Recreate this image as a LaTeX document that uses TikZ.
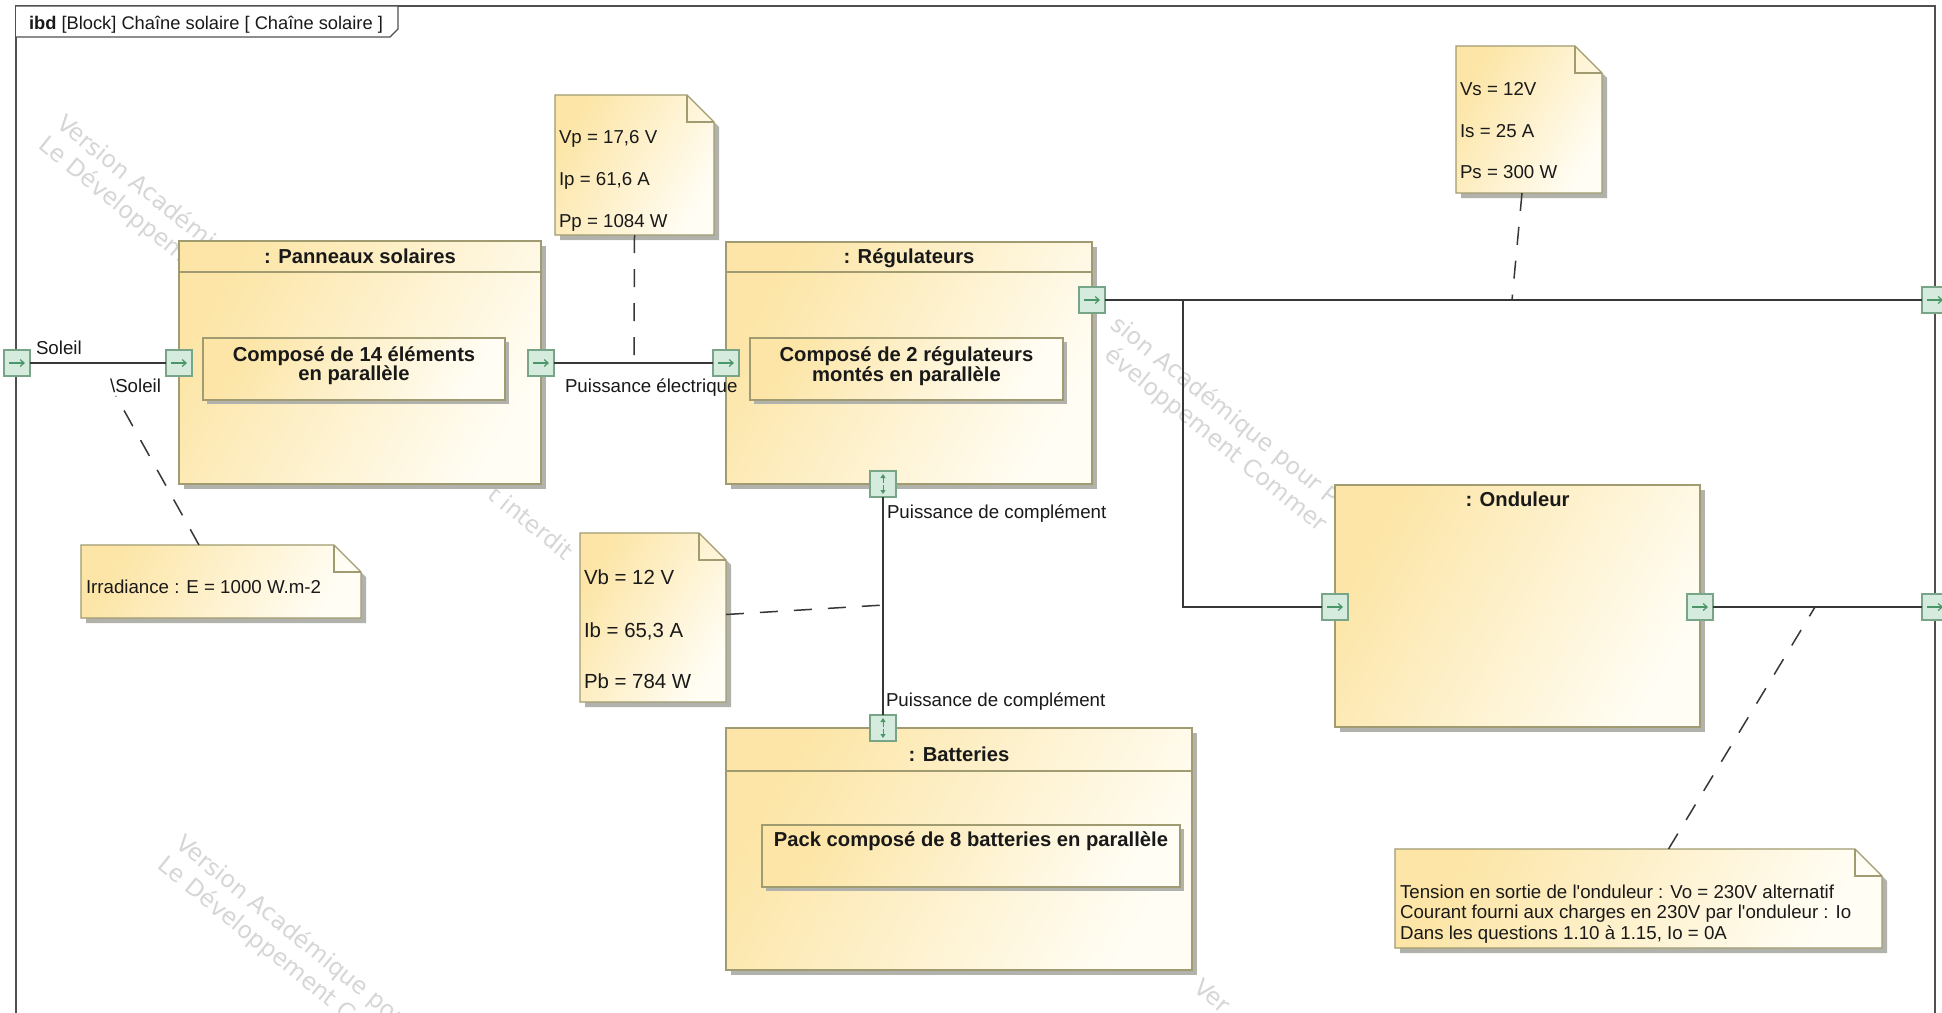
\documentclass[tikz,border=0pt]{standalone}
\usepackage{fontspec}
\setmainfont{Liberation Sans}
\newfontfamily\wmfont{DejaVu Sans}
\usetikzlibrary{arrows.meta,calc,shadows,fit}

\definecolor{blkA}{RGB}{252,229,166}
\definecolor{blkB}{RGB}{255,253,244}
\definecolor{bordc}{RGB}{160,155,112}
\definecolor{shadowc}{RGB}{178,178,172}
\definecolor{portfill}{RGB}{213,235,222}
\definecolor{portline}{RGB}{120,165,135}
\definecolor{portarr}{RGB}{75,150,105}
\definecolor{wirec}{RGB}{55,55,55}
\definecolor{framec}{RGB}{80,80,80}
\definecolor{txtc}{RGB}{25,25,25}
\definecolor{wmc}{RGB}{214,214,214}

\tikzset{
  every node/.style={inner sep=0pt, outer sep=0pt},
  txt/.style={font=\fontsize{18.7}{21}\selectfont, text=txtc},
  ttxt/.style={font=\fontsize{18.3}{21}\selectfont, text=txtc},
  bigtxt/.style={font=\fontsize{20.4}{24}\selectfont, text=txtc},
  btxt/.style={font=\fontsize{20.2}{24}\selectfont\bfseries, text=txtc},
  wmark/.style={font=\wmfont\fontsize{23.5}{28}\selectfont, text=wmc, anchor=base west, rotate=-39},
  blockbox/.style={draw=bordc, line width=1.4pt, left color=blkA, right color=blkB, shading angle=60,
    drop shadow={shadow xshift=5pt, shadow yshift=-5pt, fill=shadowc, opacity=1}},
  innerbox/.style={draw=bordc, line width=1.3pt, left color=blkA, right color=blkB, shading angle=60,
    drop shadow={shadow xshift=4pt, shadow yshift=-4pt, fill=shadowc, opacity=1}},
  hline/.style={draw=bordc, line width=1.3pt},
  notel/.style={draw=bordc, line width=1.3pt},
  port/.style={draw=portline, fill=portfill, line width=1.2pt, minimum width=26pt, minimum height=26pt},
  parrowR/.style={draw=portarr, line width=1.2pt, -{Straight Barb[length=4pt,width=7pt]}},
  parrowV/.style={draw=portarr, line width=1pt, -{Triangle[length=4pt,width=5pt]}},
  wire/.style={draw=wirec, line width=1.5pt},
  framel/.style={draw=framec, line width=1.3pt},
  dashl/.style={draw=wirec, line width=1.5pt, dash pattern=on 18pt off 16pt},
}

\newcommand\mknote[5]{%
  \fill[shadowc] (#2+5,#3+5) -- (#4+5-27,#3+5) -- (#4+5,#3+5+27) -- (#4+5,#5+5) -- (#2+5,#5+5) -- cycle;
  \shade[left color=blkA, right color=blkB, shading angle=60] (#2,#3) -- (#4-27,#3) -- (#4,#3+27) -- (#4,#5) -- (#2,#5) -- cycle;
  \draw[notel] (#2,#3) -- (#4-27,#3) -- (#4,#3+27) -- (#4,#5) -- (#2,#5) -- cycle;
  \draw[notel] (#4-27,#3) -- (#4-27,#3+27) -- (#4,#3+27);
  \node[fit={(#2,#3) (#4,#5)}, inner sep=0pt] (#1) {};
}
\newcommand\portR[2]{%
  \node[port] (#1) at (#2) {};
  \draw[parrowR] ([xshift=-8pt]#1.center) -- ([xshift=8pt]#1.center);
}
\newcommand\portUD[2]{%
  \node[port] (#1) at (#2) {};
  \draw[parrowV] ([yshift=1pt]#1.center) -- ([yshift=10pt]#1.center);
  \draw[parrowV] ([yshift=-1pt]#1.center) -- ([yshift=-10pt]#1.center);
}

\begin{document}
\begin{tikzpicture}[x=1pt,y=-1pt]
\path[use as bounding box] (0,0) rectangle (1942,1012);
\clip (0,0) rectangle (1942,1012);
\fill[white] (0,0) rectangle (1942,1012);

% watermarks (visible parts only)
\node[wmark] (wmA1) at (55,126) {Version Académi};
\node[wmark] (wmB1) at (37.4,147.8) {Le Développem};
\node[wmark] (wmC1) at (486,497) {t interdit};
\node[wmark] (wmA2) at (1080,303) {\phantom{Ver}sion Académique pour P};
\node[wmark] (wmB2) at (1062.4,324.8) {\phantom{Le D}éveloppement Commer};
\node[wmark] (wmA3) at (174,846) {Version Académique pou};
\node[wmark] (wmB3) at (156.4,867.8) {Le Développement C};
\node[wmark] (wmA4) at (1192,990) {Ver};

% frame
\draw[framel] (16,1030) -- (16,6) -- (1935,6) -- (1935,1030);
\filldraw[framel, fill=white] (16,6) -- (398,6) -- (398,29) -- (390,37) -- (16,37);
\node[ttxt, anchor=base west] (title) at (29,29) {\textbf{ibd} [Block] Chaîne solaire [ Chaîne solaire ]};

% notes
\mknote{vp}{555}{95}{714}{235}
\mknote{vs}{1456}{46}{1602}{193}
\mknote{irr}{81}{545}{361}{618}
\mknote{vb}{580}{533}{726}{702}
\mknote{vo}{1395}{849}{1882}{948}

\node[txt, anchor=base west] (vp1) at (559,143) {Vp = 17,6 V};
\node[txt, anchor=base west] (vp2) at (559,185) {Ip = 61,6 A};
\node[txt, anchor=base west] (vp3) at (559,227) {Pp = 1084 W};
\node[txt, anchor=base west] (vs1) at (1460,95) {Vs = 12V};
\node[txt, anchor=base west] (vs2) at (1460,137) {Is = 25 A};
\node[txt, anchor=base west] (vs3) at (1460,178) {Ps = 300 W};
\node[txt, anchor=base west] (irr1) at (86,593) {Irradiance : E = 1000 W.m-2};
\node[bigtxt, anchor=base west] (vb1) at (584,584) {Vb = 12 V};
\node[bigtxt, anchor=base west] (vb2) at (584,637) {Ib = 65,3 A};
\node[bigtxt, anchor=base west] (vb3) at (584,688) {Pb = 784 W};
\node[txt, anchor=base west] (vo1) at (1400,898) {Tension en sortie de l\textquotesingle onduleur : Vo = 230V alternatif};
\node[txt, anchor=base west] (vo2) at (1400,918) {Courant fourni aux charges en 230V par l\textquotesingle onduleur : Io};
\node[txt, anchor=base west] (vo3) at (1400,939) {Dans les questions 1.10 à 1.15, Io = 0A};

% blocks
\node[blockbox, anchor=north west, minimum width=362pt, minimum height=243pt] (pan) at (179,241) {};
\draw[hline] (179,272) -- (541,272);
\node[btxt, anchor=base] (panT) at (360,263) {: Panneaux solaires};
\node[innerbox, anchor=north west, minimum width=302pt, minimum height=62pt] (panI) at (203,338) {};
\node[btxt, anchor=base] (panI1) at (354,361) {Composé de 14 éléments};
\node[btxt, anchor=base] (panI2) at (354,380) {en parallèle};

\node[blockbox, anchor=north west, minimum width=366pt, minimum height=242pt] (reg) at (726,242) {};
\draw[hline] (726,272) -- (1092,272);
\node[btxt, anchor=base] (regT) at (909,263) {: Régulateurs};
\node[innerbox, anchor=north west, minimum width=313pt, minimum height=62pt] (regI) at (750,338) {};
\node[btxt, anchor=base] (regI1) at (906.5,361) {Composé de 2 régulateurs};
\node[btxt, anchor=base] (regI2) at (906.5,381) {montés en parallèle};

\node[blockbox, anchor=north west, minimum width=466pt, minimum height=242pt] (bat) at (726,728) {};
\draw[hline] (726,771) -- (1192,771);
\node[btxt, anchor=base] (batT) at (959,761) {: Batteries};
\node[innerbox, anchor=north west, minimum width=418pt, minimum height=62pt] (batI) at (762,825) {};
\node[btxt, anchor=base] (batI1) at (971,846) {Pack composé de 8 batteries en parallèle};

\node[blockbox, anchor=north west, minimum width=365pt, minimum height=242pt] (ond) at (1335,485) {};
\node[btxt, anchor=base] (ondT) at (1517.5,506) {: Onduleur};

% ports
\portR{pS}{17,363}
\portR{pPanIn}{179,363}
\portR{pPanOut}{541,363}
\portR{pRegIn}{726,363}
\portR{pRegOut}{1092,300}
\portUD{pRegBot}{883,484}
\portUD{pBatTop}{883,728}
\portR{pOndIn}{1335,607}
\portR{pOndOut}{1700,607}
\portR{pOutA}{1935,300}
\portR{pOutB}{1935,607}

% connectors
\draw[wire] (pS.east) -- (pPanIn.west);
\draw[wire] (pPanOut.east) -- (pRegIn.west);
\draw[wire] (pRegOut.east) -- (pOutA.west);
\coordinate (jn) at (1183,300);
\draw[wire] (pRegOut.east) -- (jn) |- (pOndIn.west);
\draw[wire] (pRegBot.south) -- (pBatTop.north);
\draw[wire] (pOndOut.east) -- (pOutB.west);

% note anchors (dashed)
\coordinate (dVp) at (634,363);
\coordinate (dVs) at (1512,300);
\coordinate (dSol) at (116,396);
\coordinate (dVb) at (884,605);
\coordinate (dVo) at (1815,607);
\draw[dashl] (vp.south) -- (dVp);
\draw[dashl] ([xshift=-7pt]vs.south) -- (dVs);
\draw[dashl] ([xshift=-22pt]irr.north) -- (dSol);
\draw[dashl] ([yshift=3pt]vb.east) -- (dVb);
\draw[dashl] ([xshift=30pt]vo.north) -- (dVo);

% connector labels
\node[txt, anchor=base west] (lSoleil) at (36,354) {Soleil};
\node[txt, anchor=base east] (lSoleilB) at (161,392) {\textbackslash Soleil};
\node[txt, anchor=base west] (lPe) at (565,392) {Puissance électrique};
\node[txt, anchor=base west] (lPc1) at (887,518) {Puissance de complément};
\node[txt, anchor=base west] (lPc2) at (886,706) {Puissance de complément};
\end{tikzpicture}
\end{document}
